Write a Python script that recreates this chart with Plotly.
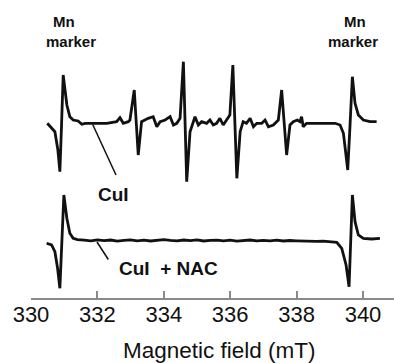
import plotly.graph_objects as go

# ---------------- data ----------------
# Upper spectrum: CuI  (field in mT, intensity in arbitrary units, baseline = 0)
cui_field = [330.49, 330.72, 330.81, 330.87, 330.92, 330.97, 331.08, 331.17, 331.27, 331.42,
             331.53, 331.63, 331.78, 332.08, 332.28, 332.58, 332.68, 332.78, 332.93, 332.98,
             333.11, 333.23, 333.33, 333.43, 333.53, 333.68, 333.79, 333.89, 334.04, 334.19,
             334.29, 334.39, 334.49, 334.59, 334.69, 334.79, 334.89, 334.94, 335.04, 335.14,
             335.29, 335.39, 335.49, 335.59, 335.69, 335.79, 335.89, 335.99, 336.08, 336.20,
             336.30, 336.39, 336.49, 336.60, 336.70, 336.80, 336.95, 337.05, 337.15, 337.30,
             337.45, 337.55, 337.70, 337.80, 337.90, 338.02, 338.10, 338.15, 338.20, 338.30,
             338.55, 338.86, 339.16, 339.31, 339.41, 339.47, 339.54, 339.61, 339.68, 339.76,
             339.86, 340.01, 340.21, 340.41]
cui_signal = [-1.3, -9.7, -28.0, -49.7, -3.0, 47.0, 17.0, 5.3, 2.0, 1.0,
              -2.3, -1.3, -1.3, -1.0, -1.3, 0.3, 4.3, -1.3, 0.3, 2.0,
              32.0, -33.0, 0.3, 2.0, 3.7, 5.3, -4.7, 0.3, 2.0, 5.3,
              -3.0, -1.3, 3.7, 60.3, -59.7, -9.7, 0.3, 5.3, -3.0, 0.3,
              -1.3, 2.0, -3.0, -1.3, 3.7, -3.0, 2.0, 7.0, 57.0, -56.3,
              -9.7, 0.3, -1.3, 3.7, -4.7, -1.3, -1.3, 2.0, -4.7, -3.0,
              2.0, 32.0, -33.0, -3.0, 0.3, 2.0, 0.3, 5.3, -4.7, -1.3,
              -1.3, -1.3, -1.3, -3.0, -11.3, -28.0, -48.0, -3.0, 45.3, 18.7,
              7.0, 2.0, 0.3, 0.3]

# Lower spectrum: CuI + NAC
nac_field = [330.47, 330.62, 330.72, 330.80, 330.87, 330.93, 330.99, 331.08, 331.17, 331.27,
             331.40,
             331.6, 331.8, 332.0, 332.2, 332.4, 332.6, 332.8, 333.0, 333.2, 333.4,
             333.6, 333.8, 334.0, 334.2, 334.4, 334.6, 334.8, 335.0, 335.2, 335.4,
             335.6, 335.8, 336.0, 336.2, 336.4, 336.6, 336.8, 337.0, 337.2, 337.4,
             337.6, 337.8, 338.0, 338.2, 338.4, 338.6, 338.8, 339.0,
             339.21, 339.36, 339.49, 339.58, 339.63, 339.68, 339.76, 339.86, 340.01, 340.26,
             340.51]
nac_signal = [-2.8, -4.5, -11.2, -27.5, -47.8, 0.5, 45.5, 22.2, 7.2, 2.2,
              0.8,
              0.3, -0.4, 0.6, -0.2, 0.5, -0.6, 0.2, 0.7, -0.3, 0.4,
              -0.5, 0.3, 0.9, 0.1, -0.4, 0.5, -0.2, 0.6, -0.5, 0.2,
              0.4, -0.3, 0.3, -0.6, 0.1, 0.5, -0.4, 0.2, -0.3, 0.4,
              -0.5, 0.0, -0.3, -0.6, -0.4, -0.9, -0.7, -1.2,
              -1.8, -7.8, -24.5, -46.2, 0.5, 45.5, 18.8, 5.5, 2.2, 1.5,
              2.2]

tick_values = [330, 332, 334, 336, 338, 340]
tick_labels = ["330", "332", "334", "336", "338", "340"]

# ---------------- layout constants ----------------
W, H = 394, 363
ML, MR, MT, MB = 31, 0, 0, 65
PX_PER_MT = 33.2
X0 = 330.0
X1 = X0 + (W - ML - MR) / PX_PER_MT
PLOT_H = H - MT - MB
CUI_OFFSET = PLOT_H - 122.0     # vertical offset of upper trace
NAC_OFFSET = PLOT_H - 240.5     # vertical offset of lower trace


def fx(px):   # pixel x -> field
    return X0 + (px - ML) / PX_PER_MT


def fy(py):   # pixel y -> y-axis units
    return PLOT_H - (py - MT)


fig = go.Figure()
line_style = dict(color="#111111", width=2.8, shape="linear")
fig.add_trace(go.Scatter(x=cui_field, y=[v + CUI_OFFSET for v in cui_signal],
                         mode="lines", line=line_style, hoverinfo="skip"))
fig.add_trace(go.Scatter(x=nac_field, y=[v + NAC_OFFSET for v in nac_signal],
                         mode="lines", line=line_style, hoverinfo="skip"))

FONT = "Liberation Sans, Arial, sans-serif"
bold = dict(family=FONT, size=15, color="#111111")
label_font = dict(family=FONT, size=19, color="#111111")

annotations = [
    dict(text="<b>Mn</b>", x=fx(63.8), y=fy(21), font=bold),
    dict(text="<b>marker</b>", x=fx(70.8), y=fy(41), font=bold),
    dict(text="<b>Mn</b>", x=fx(355), y=fy(21), font=bold),
    dict(text="<b>marker</b>", x=fx(352.5), y=fy(41), font=bold),
    dict(text="<b>CuI</b>", x=fx(113.8), y=fy(194), font=label_font),
    dict(text="<b>CuI\u00a0 + NAC</b>", x=fx(116.7), y=fy(268.5), font=label_font,
         xanchor="left"),
]
for a in annotations:
    a.setdefault("xanchor", "center")
    a.update(xref="x", yref="y", yanchor="middle", showarrow=False)

annotations.append(dict(text="Magnetic field (mT)", xref="paper", yref="paper",
                        x=(219 - ML) / (W - ML - MR), y=-(350 - PLOT_H) / PLOT_H,
                        xanchor="center", yanchor="middle", showarrow=False,
                        font=dict(family=FONT, size=22.5, color="#111111")))

shapes = [
    dict(type="line", xref="x", yref="y", x0=fx(92.7), y0=fy(124.5), x1=fx(116), y1=fy(175),
         line=dict(color="#111111", width=1.5)),
    dict(type="line", xref="x", yref="y", x0=fx(97), y0=fy(242), x1=fx(108.3), y1=fy(259.5),
         line=dict(color="#111111", width=1.5)),
]

fig.update_layout(
    width=W, height=H,
    margin=dict(l=ML, r=MR, t=MT, b=MB, pad=0),
    paper_bgcolor="white", plot_bgcolor="white",
    showlegend=False,
    annotations=annotations,
    shapes=shapes,
    xaxis=dict(range=[X0, X1], tickvals=tick_values, ticktext=tick_labels,
               showgrid=False, zeroline=False, showline=True, linecolor="#8a8a8a",
               linewidth=1.5, ticks="inside", ticklen=7, tickwidth=1.5, tickcolor="#8a8a8a",
               ticklabelstandoff=-4,
               tickfont=dict(family=FONT, size=22, color="#111111")),
    yaxis=dict(range=[0, PLOT_H], visible=False, fixedrange=True),
)

fig.write_html("out.html")
